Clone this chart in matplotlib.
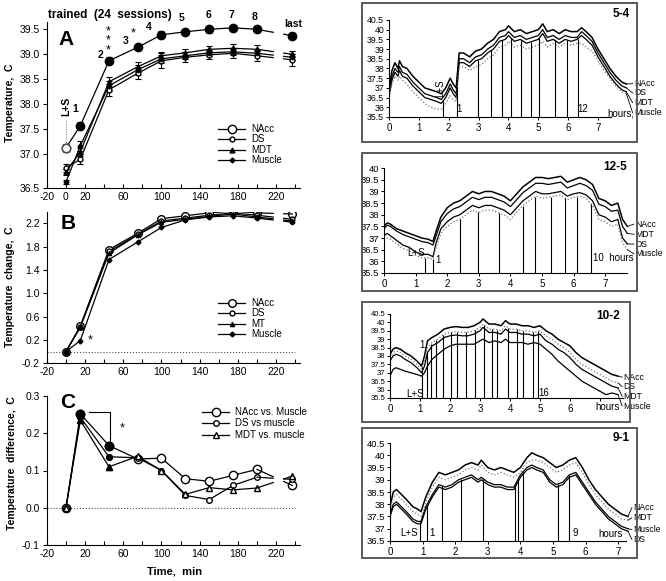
import numpy as np
import matplotlib
matplotlib.use('Agg')
import matplotlib.pyplot as plt
from matplotlib.patches import Rectangle
from matplotlib.lines import Line2D

plt.rcParams['font.family'] = ['Liberation Sans', 'DejaVu Sans']
plt.rcParams['font.size'] = 7.5

# ---------------- left panels: session means ----------------
t_min = [0, 15, 45, 75, 100, 125, 150, 175, 200]
t_last = 237

# A: absolute temperature
a_nacc = [37.13, 37.57, 38.87, 39.14, 39.39, 39.45, 39.50, 39.53, 39.50]
a_ds = [36.73, 36.90, 38.29, 38.62, 38.87, 38.94, 38.99, 39.02, 38.97]
a_mdt = [36.65, 37.05, 38.45, 38.75, 38.97, 39.03, 39.10, 39.12, 39.10]
a_mus = [36.45, 37.17, 38.37, 38.69, 38.91, 38.97, 39.03, 39.05, 39.02]
a_last = {'NAcc': 39.37, 'DS': 38.89, 'MDT': 39.00, 'Muscle': 38.94}
a_err_nacc = [0.08, 0.07, 0.07, 0.05, 0.07, 0.06, 0.07, 0.06, 0.06]
a_err_ds = [0.08, 0.10, 0.12, 0.12, 0.15, 0.10, 0.08, 0.10, 0.10]
a_err_mdt = [0.06, 0.08, 0.10, 0.10, 0.08, 0.08, 0.06, 0.08, 0.08]
a_err_mus = [0.04, 0.10, 0.10, 0.10, 0.08, 0.07, 0.06, 0.06, 0.06]
a_err_last = {'NAcc': 0.05, 'DS': 0.12, 'MDT': 0.06, 'Muscle': 0.06}

# B: change from baseline
b_nacc = [0.0, 0.44, 1.75, 2.03, 2.28, 2.33, 2.38, 2.41, 2.38]
b_ds = [0.0, 0.43, 1.72, 2.01, 2.24, 2.29, 2.34, 2.38, 2.34]
b_mt = [0.0, 0.42, 1.69, 2.00, 2.22, 2.27, 2.32, 2.36, 2.31]
b_mus = [0.0, 0.19, 1.58, 1.88, 2.13, 2.26, 2.31, 2.33, 2.29]
b_last = {'NAcc': 2.36, 'DS': 2.27, 'MT': 2.24, 'Muscle': 2.22}

# C: difference vs muscle
c_nacc = [0.0, 0.252, 0.167, 0.131, 0.133, 0.078, 0.071, 0.087, 0.103]
c_ds = [0.0, 0.243, 0.137, 0.134, 0.100, 0.033, 0.022, 0.060, 0.082]
c_mdt = [0.0, 0.235, 0.110, 0.138, 0.100, 0.036, 0.054, 0.048, 0.053]
c_last = {'NAcc': 0.060, 'DS': 0.076, 'MDT': 0.085}

session_labels = ['1', '2', '3', '4', '5', '6', '7', '8']

# ---------------- right panels: individual records ----------------
t54 = [0.0, 0.1, 0.2, 0.3, 0.35, 0.45, 0.6, 0.8, 1.0, 1.2, 1.4, 1.6, 1.75, 1.9, 2.05, 2.15,
       2.25, 2.35, 2.5, 2.7, 2.9, 3.1, 3.3, 3.5, 3.7, 3.9, 4.0, 4.2, 4.4, 4.6, 4.8, 5.0,
       5.15, 5.3, 5.5, 5.7, 5.9, 6.1, 6.3, 6.45, 6.6, 6.8, 7.0, 7.2, 7.4, 7.6, 7.8, 7.95]
r54_nacc = [37.0, 37.9, 38.3, 38.0, 38.4, 38.1, 38.0, 37.6, 37.3, 37.0, 36.9, 36.8, 36.7, 37.0, 37.5, 37.2,
            37.0, 38.8, 38.8, 38.6, 38.9, 39.0, 39.3, 39.5, 39.9, 40.0, 40.2, 39.9, 40.0, 39.8, 39.9, 40.0,
            40.3, 39.9, 40.0, 39.8, 40.0, 39.9, 39.9, 40.1, 39.9, 39.6, 39.0, 38.5, 38.0, 37.6, 37.3, 37.2]
r54_ds = [36.8, 37.6, 38.0, 37.8, 38.1, 37.8, 37.7, 37.3, 37.0, 36.7, 36.6, 36.5, 36.4, 36.7, 37.2, 36.9,
          36.7, 38.5, 38.5, 38.3, 38.6, 38.7, 39.0, 39.2, 39.6, 39.7, 39.9, 39.6, 39.7, 39.5, 39.6, 39.7,
          40.0, 39.6, 39.7, 39.5, 39.7, 39.6, 39.6, 39.9, 39.7, 39.4, 38.8, 38.3, 37.8, 37.4, 37.1, 37.0]
r54_mdt = [36.6, 37.4, 37.8, 37.6, 37.9, 37.6, 37.5, 37.1, 36.8, 36.5, 36.4, 36.3, 36.2, 36.5, 37.0, 36.7,
           36.5, 38.3, 38.3, 38.1, 38.4, 38.5, 38.8, 39.0, 39.4, 39.5, 39.7, 39.4, 39.5, 39.3, 39.4, 39.5,
           39.8, 39.4, 39.5, 39.3, 39.5, 39.4, 39.5, 39.7, 39.5, 39.2, 38.6, 38.1, 37.6, 37.2, 36.9, 36.8]
r54_mus = [36.5, 37.2, 37.6, 37.4, 37.6, 37.4, 37.2, 36.8, 36.5, 36.2, 36.0, 35.9, 35.9, 36.2, 36.6, 36.4,
           36.3, 38.1, 38.1, 37.9, 38.1, 38.2, 38.5, 38.7, 39.1, 39.2, 39.4, 39.1, 39.2, 39.0, 39.1, 39.2,
           39.4, 39.1, 39.3, 39.1, 39.3, 39.2, 39.3, 39.3, 39.1, 38.9, 38.4, 37.9, 37.5, 37.1, 36.8, 36.7]
s54 = [1.8, 2.28, 2.98, 3.43, 3.79, 4.1, 4.41, 4.74, 5.04, 5.55, 5.96, 6.33]

t125 = [0.0, 0.1, 0.2, 0.4, 0.6, 0.8, 1.0, 1.2, 1.4, 1.55, 1.65, 1.8, 2.0, 2.2, 2.4, 2.6, 2.8, 3.0,
        3.2, 3.4, 3.6, 3.8, 4.0, 4.2, 4.4, 4.6, 4.8, 5.0, 5.2, 5.4, 5.6, 5.8, 6.0, 6.2, 6.4, 6.6,
        6.8, 7.0, 7.2, 7.4, 7.55, 7.7]
r125_nacc = [37.5, 37.65, 37.6, 37.4, 37.3, 37.2, 37.1, 37.0, 36.95, 36.85, 37.3, 37.9, 38.3, 38.5, 38.6, 38.8, 39.0, 38.9,
             39.0, 39.0, 38.9, 38.8, 38.6, 38.9, 39.2, 39.4, 39.6, 39.6, 39.55, 39.6, 39.65, 39.4, 39.5, 39.6, 39.5, 39.3,
             38.7, 38.6, 38.4, 38.5, 37.8, 37.5]
r125_mdt = [37.4, 37.55, 37.5, 37.3, 37.15, 37.05, 36.95, 36.85, 36.8, 36.7, 37.1, 37.7, 38.05, 38.25, 38.35, 38.55, 38.75, 38.65,
            38.75, 38.75, 38.65, 38.55, 38.35, 38.65, 38.95, 39.15, 39.35, 39.35, 39.3, 39.35, 39.4, 39.15, 39.25, 39.35, 39.25, 39.05,
            38.45, 38.35, 38.15, 38.2, 37.5, 37.2]
r125_ds = [37.1, 37.2, 37.1, 36.9, 36.7, 36.6, 36.4, 36.3, 36.3, 36.2, 36.8, 37.4, 37.7, 37.9, 38.0, 38.2, 38.4, 38.3,
           38.4, 38.4, 38.3, 38.2, 38.0, 38.3, 38.6, 38.8, 39.0, 38.9, 38.9, 38.95, 39.0, 38.8, 38.9, 38.95, 38.85, 38.6,
           38.0, 37.9, 37.7, 37.8, 37.0, 36.75]
r125_mus = [36.9, 37.0, 36.95, 36.75, 36.55, 36.45, 36.25, 36.15, 36.15, 36.1, 36.6, 37.2, 37.5, 37.7, 37.8, 38.0, 38.2, 38.1,
            38.2, 38.2, 38.1, 38.0, 37.8, 38.1, 38.4, 38.6, 38.8, 38.7, 38.75, 38.8, 38.85, 38.65, 38.75, 38.8, 38.7, 38.4,
            37.8, 37.7, 37.5, 37.6, 36.8, 36.5]
s125 = [1.3, 1.54, 2.41, 2.96, 3.65, 4.39, 4.78, 5.28, 5.72, 6.1, 6.55]

t102 = [0.0, 0.1, 0.2, 0.35, 0.5, 0.7, 0.9, 1.05, 1.15, 1.25, 1.4, 1.6, 1.8, 2.0, 2.2, 2.4, 2.6, 2.8,
        3.0, 3.1, 3.3, 3.5, 3.7, 3.85, 4.0, 4.2, 4.4, 4.6, 4.8, 5.0, 5.2, 5.4, 5.6, 5.8, 6.0, 6.2,
        6.4, 6.6, 6.8, 7.0, 7.2, 7.4, 7.6]
r102_nacc = [38.1, 38.4, 38.5, 38.4, 38.2, 38.0, 37.7, 37.4, 38.0, 38.9, 39.1, 39.3, 39.6, 39.7, 39.75, 39.7, 39.7, 39.8,
             40.0, 40.2, 39.9, 39.9, 39.8, 40.1, 39.9, 39.9, 39.8, 39.8, 39.7, 39.8, 39.5, 39.3, 39.0, 38.8, 38.6, 38.2,
             37.9, 37.7, 37.5, 37.3, 37.1, 36.9, 36.8]
r102_ds = [37.9, 38.2, 38.3, 38.2, 38.0, 37.8, 37.5, 37.2, 37.7, 38.5, 38.8, 39.0, 39.3, 39.4, 39.45, 39.4, 39.4, 39.5,
           39.7, 39.9, 39.6, 39.6, 39.5, 39.8, 39.6, 39.6, 39.5, 39.5, 39.4, 39.5, 39.2, 39.0, 38.7, 38.5, 38.2, 37.8,
           37.5, 37.3, 37.1, 36.9, 36.7, 36.5, 36.4]
r102_mdt = [37.7, 38.0, 38.1, 38.0, 37.8, 37.6, 37.3, 37.0, 37.4, 38.2, 38.6, 38.8, 39.1, 39.2, 39.25, 39.2, 39.2, 39.3,
            39.5, 39.7, 39.4, 39.4, 39.3, 39.6, 39.4, 39.4, 39.3, 39.3, 39.2, 39.3, 38.9, 38.7, 38.4, 38.2, 37.9, 37.5,
            37.2, 37.0, 36.8, 36.6, 36.4, 36.2, 36.1]
r102_mus = [36.8, 37.2, 37.3, 37.2, 37.1, 37.0, 36.9, 36.8, 37.0, 37.4, 37.8, 38.1, 38.4, 38.6, 38.7, 38.7, 38.7, 38.7,
            38.9, 39.0, 38.8, 38.9, 38.8, 39.0, 38.8, 38.8, 38.8, 38.7, 38.8, 38.7, 38.4, 38.1, 37.7, 37.4, 37.1, 36.8,
            36.5, 36.3, 36.1, 35.9, 35.7, 35.8, 35.7]
s102 = [1.08, 1.22, 1.36, 1.53, 1.78, 2.02, 2.22, 2.53, 2.83, 3.13, 3.39, 3.58, 3.94, 4.22, 4.44, 4.76, 4.94]

t91 = [0.0, 0.1, 0.2, 0.35, 0.5, 0.7, 0.85, 0.95, 1.1, 1.3, 1.5, 1.7, 1.9, 2.1, 2.3, 2.5, 2.7, 2.8,
       3.0, 3.2, 3.4, 3.6, 3.8, 4.0, 4.2, 4.35, 4.5, 4.7, 4.9, 5.1, 5.3, 5.5, 5.7, 5.9, 6.1, 6.3,
       6.5, 6.7, 6.9, 7.1, 7.3]
r91_nacc = [37.9, 38.5, 38.6, 38.4, 38.2, 37.9, 37.8, 37.7, 38.3, 38.9, 39.3, 39.2, 39.3, 39.4, 39.6, 39.7, 39.6, 39.8,
            39.5, 39.4, 39.5, 39.4, 39.3, 39.5, 39.9, 40.1, 40.0, 39.9, 39.7, 39.5, 39.6, 39.8, 39.9, 39.5, 39.0, 38.6,
            38.3, 38.0, 37.8, 37.6, 37.5]
r91_mdt = [37.8, 38.3, 38.4, 38.2, 38.0, 37.7, 37.6, 37.5, 38.1, 38.7, 39.1, 39.0, 39.1, 39.2, 39.4, 39.5, 39.4, 39.6,
           39.3, 39.2, 39.3, 39.2, 39.1, 39.3, 39.7, 39.8, 39.8, 39.7, 39.5, 39.3, 39.4, 39.6, 39.7, 39.3, 38.8, 38.4,
           38.1, 37.8, 37.6, 37.4, 37.35]
r91_mus = [37.6, 38.0, 38.1, 37.9, 37.7, 37.4, 37.3, 37.3, 37.9, 38.4, 38.8, 38.7, 38.8, 39.0, 39.1, 39.2, 39.0, 39.1,
           38.9, 38.8, 38.8, 38.7, 38.7, 39.2, 39.5, 39.6, 39.5, 39.4, 39.0, 38.8, 38.9, 39.2, 39.3, 38.9, 38.5, 38.1,
           37.8, 37.5, 37.3, 37.1, 37.0]
r91_ds = [37.5, 37.9, 38.0, 37.8, 37.6, 37.3, 37.2, 37.2, 37.8, 38.3, 38.7, 38.6, 38.7, 38.9, 39.0, 39.1, 38.9, 39.0,
          38.8, 38.7, 38.7, 38.6, 38.6, 39.1, 39.4, 39.5, 39.4, 39.3, 38.9, 38.7, 38.8, 39.1, 39.2, 38.8, 38.4, 38.0,
          37.7, 37.4, 37.2, 37.0, 36.9]
s91 = [0.92, 1.12, 1.58, 2.17, 2.84, 3.83, 3.93, 4.09, 5.16, 5.5]

W, H = 666, 581
fig = plt.figure(figsize=(6.66, 5.81), dpi=100)


def px_axes(x0, y0, x1, y1):
    return fig.add_axes([x0 / W, 1 - y1 / H, (x1 - x0) / W, (y1 - y0) / H])


def fx(x):
    return x / W


def fy(y):
    return 1 - y / H


def left_style(ax, ylim, yticks, ylabels, zero_label):
    ax.set_xlim(-20, 248)
    ax.set_ylim(*ylim)
    for s in ['top', 'right']:
        ax.spines[s].set_visible(False)
    ax.spines['bottom'].set_bounds(-20, 245)
    xt = list(range(-20, 241, 20))
    xl = []
    for v in xt:
        if v in (-20, 20, 60, 100, 140, 180, 220) or (v == 0 and zero_label):
            xl.append(str(v))
        else:
            xl.append('')
    ax.set_xticks(xt)
    ax.set_xticklabels(xl)
    ax.set_yticks(yticks)
    ax.set_yticklabels(ylabels)
    ax.tick_params(axis='x', direction='in', length=3, labelsize=7.5, pad=3)
    ax.tick_params(axis='y', direction='out', length=3, labelsize=7.5, pad=2)


def gap_lines(ax, vals, last, lw=0.9):
    # line runs on a little past the last session, then resumes just before "last"
    ext = np.interp(217, [t_min[-1], t_last], [vals[-1], last])
    pre = np.interp(228, [t_min[-1], t_last], [vals[-1], last])
    ax.plot([t_min[-1], 217], [vals[-1], ext], color='k', lw=lw)
    ax.plot([228, t_last], [pre, last], color='k', lw=lw)


# ---------- A ----------
axA = px_axes(46.9, 21.8, 302.8, 188.3)
left_style(axA, (36.32, 39.65), [36.32, 37.0, 37.5, 38.0, 38.5, 39.0, 39.5],
           ['36.5', '37.0', '37.5', '38.0', '38.5', '39.0', '39.5'], True)
a_series = [('NAcc', a_nacc, a_err_nacc, 'o', 6, 'k'),
            ('DS', a_ds, a_err_ds, 'o', 3.5, 'white'),
            ('MDT', a_mdt, a_err_mdt, '^', 3.5, 'k'),
            ('Muscle', a_mus, a_err_mus, 'D', 2.5, 'k')]
for name, vals, err, mk, ms, fc in a_series:
    axA.errorbar(t_min, vals, yerr=err, color='k', lw=0.9, marker=mk, ms=ms, mfc=fc, mec='k',
                 capsize=2, elinewidth=0.8, capthick=0.8)
    axA.errorbar([t_last], [a_last[name]], yerr=[a_err_last[name]], color='k', marker=mk, ms=ms,
                 mfc=fc, mec='k', capsize=2, elinewidth=0.8, capthick=0.8, ls='none')
    gap_lines(axA, vals, a_last[name])
axA.plot([0], [a_nacc[0]], 'o', ms=6, mfc='white', mec='0.3', zorder=5)
label_pos = [(10, 37.9), (36, 38.99), (62, 39.27), (87, 39.54), (121, 39.72), (149, 39.79),
             (173.5, 39.79), (197, 39.75)]
for lab, (x, y) in zip(session_labels, label_pos):
    axA.text(x, y, lab, fontsize=7.5, fontweight='bold', ha='center', va='center', clip_on=False)
axA.text(238, 39.6, 'last', fontsize=7.5, fontweight='bold', ha='center', va='center', clip_on=False)
axA.text(44, 39.27, '*\n*\n*', fontsize=9, ha='center', va='center', linespacing=0.75)
axA.text(70, 39.41, '*', fontsize=9, ha='center', va='center')
axA.plot([0, 0], [a_nacc[0] + 0.05, 37.68], color='0.4', lw=0.7, ls=':')
axA.text(0, 37.95, 'L+S', rotation=90, fontsize=7.5, fontweight='bold', ha='center', va='center')
axA.text(0, 39.3, 'A', fontsize=15, fontweight='bold', ha='center', va='center')
fig.text(fx(48), fy(15), 'trained  (24  sessions)', fontsize=8.5, fontweight='bold', ha='left', va='center')

hA = [Line2D([], [], color='k', lw=0.9, marker='o', ms=6, mfc='white'),
      Line2D([], [], color='k', lw=0.9, marker='o', ms=3.5, mfc='white'),
      Line2D([], [], color='k', lw=0.9, marker='^', ms=3.5, mfc='k'),
      Line2D([], [], color='k', lw=0.9, marker='D', ms=2.5, mfc='k')]
axA.legend(hA, ['NAcc', 'DS', 'MDT', 'Muscle'], loc='upper left', bbox_to_anchor=(fx(218), fy(124)),
           bbox_transform=fig.transFigure, frameon=False, handlelength=2.8, handletextpad=0.6,
           labelspacing=0.05, fontsize=7, borderpad=0, borderaxespad=0)

# ---------- B ----------
axB = px_axes(46.9, 211.7, 302.8, 363.3)
left_style(axB, (-0.2, 2.4), [-0.2, 0.2, 0.6, 1.0, 1.4, 1.8, 2.2],
           ['-0.2', '0.2', '0.6', '1.0', '1.4', '1.8', '2.2'], False)
axB.axhline(0, xmin=0, xmax=(240 + 20) / 268, color='0.3', lw=0.8, ls=':')
b_series = [('NAcc', b_nacc, 'o', 5.5, 'white'), ('DS', b_ds, 'o', 3.5, 'white'),
            ('MT', b_mt, '^', 3.0, 'k'), ('Muscle', b_mus, 'D', 2.5, 'k')]
for name, vals, mk, ms, fc in b_series:
    axB.plot(t_min, vals, color='k', lw=0.9, marker=mk, ms=ms, mfc=fc, mec='k')
    axB.plot([t_last], [b_last[name]], marker=mk, ms=ms, mfc=fc, mec='k', ls='none')
    gap_lines(axB, vals, b_last[name])
axB.text(25, 0.2, '*', fontsize=9, ha='center', va='center')
axB.text(2, 2.2, 'B', fontsize=15, fontweight='bold', ha='center', va='center')
hB = [Line2D([], [], color='k', lw=0.9, marker='o', ms=5.5, mfc='white'),
      Line2D([], [], color='k', lw=0.9, marker='o', ms=3.5, mfc='white'),
      Line2D([], [], color='k', lw=0.9, marker='^', ms=3.0, mfc='k'),
      Line2D([], [], color='k', lw=0.9, marker='D', ms=2.5, mfc='k')]
axB.legend(hB, ['NAcc', 'DS', 'MT', 'Muscle'], loc='upper left', bbox_to_anchor=(fx(218), fy(298)),
           bbox_transform=fig.transFigure, frameon=False, handlelength=2.8, handletextpad=0.6,
           labelspacing=0.05, fontsize=7, borderpad=0, borderaxespad=0)

# ---------- C ----------
axC = px_axes(46.9, 396, 302.8, 545)
left_style(axC, (-0.1, 0.3), [-0.1, 0.0, 0.1, 0.2, 0.3], ['-0.1', '0.0', '0.1', '0.2', '0.3'], False)
axC.axhline(0, xmin=0, xmax=(240 + 20) / 268, color='0.3', lw=0.8, ls=':')
c_series = [('NAcc', c_nacc, 'o', 6, 'NAcc vs. Muscle'), ('DS', c_ds, 'o', 4, 'DS vs muscle'),
            ('MDT', c_mdt, '^', 5, 'MDT vs. muscle')]
hC = []
for name, vals, mk, ms, lab in c_series:
    axC.plot(t_min, vals, color='k', lw=0.9, marker=mk, ms=ms, mfc='white', mec='k')
    axC.plot(t_min[1:3], vals[1:3], ls='none', marker=mk, ms=ms, mfc='k', mec='k')
    axC.plot([t_last], [c_last[name]], marker=mk, ms=ms, mfc='white', mec='k', ls='none')
    gap_lines(axC, vals, c_last[name])
    hC.append(Line2D([], [], color='k', lw=0.9, marker=mk, ms=ms, mfc='white'))
axC.plot([23.6, 45.8, 45.8], [0.256, 0.256, 0.172], color='k', lw=0.8)
axC.text(59, 0.212, '*', fontsize=9, ha='center', va='center')
axC.text(2, 0.283, 'C', fontsize=15, fontweight='bold', ha='center', va='center')
axC.legend(hC, [c[4] for c in c_series], loc='upper left', bbox_to_anchor=(fx(202), fy(407)),
           bbox_transform=fig.transFigure, frameon=False, handlelength=2.8, handletextpad=0.6,
           labelspacing=0.15, fontsize=7, borderpad=0, borderaxespad=0)
axC.set_xlabel('Time,  min', fontsize=8, fontweight='bold', labelpad=5)

fig.text(fx(10), fy(103), 'Temperature,  C', rotation=90, fontsize=7.5, fontweight='bold', ha='center', va='center')
fig.text(fx(10), fy(287), 'Temperature  change,  C', rotation=90, fontsize=7.5, fontweight='bold', ha='center', va='center')
fig.text(fx(12), fy(463), 'Temperature  difference,  C', rotation=90, fontsize=7.5, fontweight='bold', ha='center', va='center')


# ---------- right panels ----------
def trace_panel(box, ax_px, xlim, ylim, yticks, x_end, xlab_max, ysize, title, title_px, t, series,
                sess, top_idx, labels, texts):
    fig.add_artist(Rectangle((fx(box[0]), fy(box[3])), fx(box[2]) - fx(box[0]), fy(box[1]) - fy(box[3]),
                             transform=fig.transFigure, fill=False, ec='0.35', lw=1.4))
    ax = px_axes(*ax_px)
    ax.set_xlim(*xlim)
    ax.set_ylim(*ylim)
    for s in ['top', 'right']:
        ax.spines[s].set_visible(False)
    ax.spines['bottom'].set_bounds(0, x_end)
    ax.spines['left'].set_bounds(ylim[0], yticks[-1])
    ax.set_yticks(yticks)
    ax.set_yticklabels(['%g' % v for v in yticks])
    xt = list(range(0, int(x_end) + 1))
    ax.set_xticks(xt)
    ax.set_xticklabels([str(v) if v <= xlab_max else '' for v in xt])
    ax.tick_params(length=2.5, width=0.7, labelsize=7, pad=1.5)
    ax.tick_params(axis='y', labelsize=ysize, pad=1)
    for vals, style in series:
        ax.plot(t, vals, **style)
    tops = np.interp(sess, t, series[top_idx][0])
    ax.vlines(sess, ylim[0], tops, color='k', lw=0.8)
    for (vals, style), (name, lx, ly) in zip(series, labels):
        ax.plot([t[-1], lx - 0.04], [vals[-1], ly], color='k', lw=0.6, clip_on=False)
        ax.text(lx, ly, name, fontsize=6.2, ha='left', va='center', clip_on=False)
    for x, y, s, kw in texts:
        ax.text(x, y, s, fontsize=7, clip_on=False, **kw)
    fig.text(fx(title_px[0]), fy(title_px[1]), title, fontsize=8.5, fontweight='bold', ha='center', va='center')
    return ax


solid = dict(color='k', lw=0.9)
thick = dict(color='k', lw=1.1)
dotted = dict(color='0.45', lw=0.9, ls=':')
yt_full = [35.5, 36, 36.5, 37, 37.5, 38, 38.5, 39, 39.5, 40, 40.5]
cen = dict(ha='center', va='center')
lft = dict(ha='left', va='center')

trace_panel((362, 3, 637, 142), (389, 16.1, 636.8, 117), (0, 8.3), (35.5, 40.7), yt_full, 7.45, 7, 6.3,
            '5-4', (621, 14), t54,
            [(r54_nacc, thick), (r54_ds, solid), (r54_mdt, solid), (r54_mus, dotted)], s54, 2,
            [('NAcc', 8.2, 37.22), ('DS', 8.2, 36.74), ('MDT', 8.2, 36.24), ('Muscle', 8.2, 35.72)],
            [(1.7, 36.97, 'L+S', dict(rotation=90, **cen)), (2.34, 35.93, '1', cen),
             (6.5, 35.93, '12', cen), (7.33, 35.67, 'hours,', lft)])

trace_panel((362, 153, 637, 291), (384, 163.5, 633.6, 273), (0, 7.9), (35.5, 40.2), yt_full[:-1], 7.7, 7, 6.8,
            '12-5', (615, 167), t125,
            [(r125_nacc, thick), (r125_mdt, solid), (r125_ds, solid), (r125_mus, dotted)], s125, 3,
            [('NAcc', 7.95, 37.6), ('MDT', 7.95, 37.16), ('DS', 7.95, 36.74), ('Muscle', 7.95, 36.32)],
            [(1.0, 36.36, 'L+S', cen), (1.72, 36.07, '1', cen), (6.63, 36.14, '10  hours', lft)])

trace_panel((362, 302, 630, 422), (390, 310.6, 630, 398), (0, 8.0), (35.5, 40.7), yt_full, 7.75, 6, 5.5,
            '10-2', (608, 316), t102,
            [(r102_nacc, thick), (r102_ds, dotted), (r102_mdt, solid), (r102_mus, solid)], s102, 1,
            [('NAcc', 7.78, 36.74), ('DS', 7.78, 36.18), ('MDT', 7.78, 35.6), ('Muscle', 7.78, 35.02)],
            [(1.06, 38.67, '1', cen), (0.83, 35.75, 'L+S', cen), (5.14, 35.8, '16', cen),
             (6.85, 34.95, 'hours', lft)])

trace_panel((362, 428, 637, 558), (390, 438.1, 634.5, 541), (0, 7.5), (36.5, 40.7), yt_full[2:], 7.25, 7, 6.8,
            '9-1', (621, 438), t91,
            [(r91_nacc, thick), (r91_mdt, dotted), (r91_mus, solid), (r91_ds, solid)], s91, 2,
            [('NAcc', 7.46, 37.86), ('MDT', 7.46, 37.45), ('Muscle', 7.46, 36.97), ('DS', 7.46, 36.57)],
            [(0.6, 36.84, 'L+S', cen), (1.28, 36.84, '1', cen), (5.67, 36.84, '9', cen),
             (6.4, 36.77, 'hours', lft)])

fig.savefig('out.png', dpi=100)
